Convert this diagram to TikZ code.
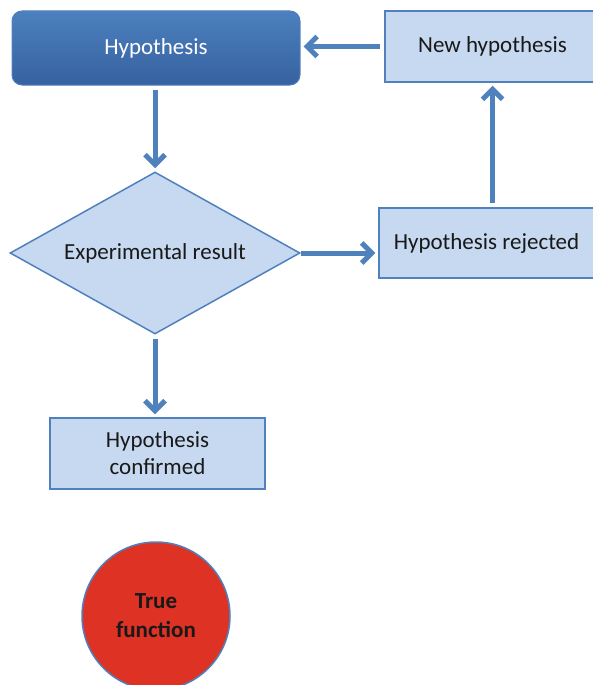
\documentclass[tikz,border=0pt]{standalone}
\usepackage{fontspec}
\setmainfont{Carlito}
\usetikzlibrary{arrows.meta,shapes.geometric}
\definecolor{boxfill}{RGB}{198,217,240}
\definecolor{boxline}{RGB}{79,129,189}
\definecolor{hyptop}{RGB}{76,128,190}
\definecolor{hypbot}{RGB}{55,97,160}
\definecolor{truered}{RGB}{221,50,36}
\tikzset{
  flowbox/.style={draw=boxline, line width=1.5pt, fill=boxfill, text=black!90, inner sep=0pt, align=center},
  flowarrow/.style={draw=boxline, line width=5pt, -{Straight Barb[length=10pt,width=20pt]}, shorten <=4pt, shorten >=3pt}
}

\begin{document}
\begin{tikzpicture}[x=1pt, y=-1pt, font=\fontsize{23}{27}\selectfont]
		%%%%% START %%%%%
		\useasboundingbox (0, 0) rectangle (592, 685);
		
		\node[rounded corners=10pt, top color=hyptop, bottom color=hypbot, draw=boxline, line width=1pt, text=white, minimum width=288pt, minimum height=74pt] (hyp) at (156, 48) {Hypothesis};
		\node[flowbox, minimum width=215pt, minimum height=71pt] (new) at (492.5, 46.5) {New hypothesis};
		
		\node[flowbox, shape=diamond, aspect=1.79, minimum width=290pt, minimum height=162pt] (res) at (155, 253) {Experimental result};
		\node[flowbox, minimum width=215pt, minimum height=70pt] (rej) at (486.5, 243) {Hypothesis rejected};
		
		\node[flowbox, minimum width=215pt, minimum height=71pt] (conf) at (157.5, 453.5) {Hypothesis\\confirmed};
		
		\node[circle, draw=boxline, line width=1.5pt, fill=truered, text=black!90, minimum size=148pt, inner sep=0pt, align=center, font=\fontsize{23}{29}\selectfont\bfseries] (truefn) at (156, 616) {True\\function};
		
		\draw[flowarrow] (hyp.south -| res.north) -- (res.north);
		\draw[flowarrow] (res.south) -- (res.south |- conf.north);
		\draw[flowarrow, shorten <=0pt] (res.east) -- (res.east -| rej.west);
		\draw[flowarrow] (new.south |- rej.north) -- (new.south);
		\draw[flowarrow] (new.west) -- (new.west -| hyp.east);
		
		%%%%% END %%%%%
\end{tikzpicture}
\end{document}
